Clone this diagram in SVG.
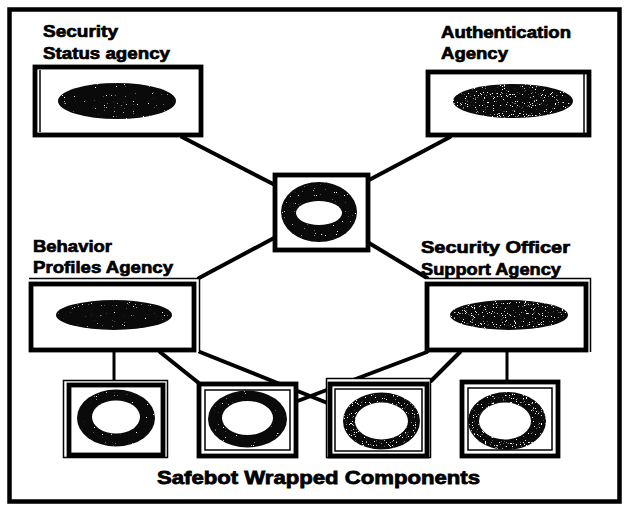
<svg xmlns="http://www.w3.org/2000/svg" width="626" height="514" viewBox="0 0 626 514">
  <style>
    .frame { fill: #fff; stroke: #000; stroke-width: 4.5; }
    .wire { stroke: #000; stroke-width: 4; stroke-linecap: round; fill: none; }
    .wire-thin { stroke: #000; stroke-width: 3; fill: none; }
    .thick { fill: #fff; stroke: #000; stroke-width: 4.8; }
    .thin { fill: none; stroke: #000; stroke-width: 1.5; }
    .blob { fill: #0a0a0a; }
    .hole { fill: #fff; }
    .label { font-family: "Liberation Sans", Arial, Helvetica, sans-serif; font-weight: bold; font-size: 17px; fill: #000; stroke: #000; stroke-width: 0.7; }
    .caption { font-family: "Liberation Sans", Arial, Helvetica, sans-serif; font-weight: bold; font-size: 19px; fill: #000; stroke: #000; stroke-width: 0.8; }
  </style>
  <defs>
    <!-- sparse white grain on the darker shapes -->
    <filter id="grain-dark" x="0" y="0" width="1" height="1" color-interpolation-filters="sRGB">
      <feTurbulence type="fractalNoise" baseFrequency="0.9" numOctaves="2" seed="4" result="noise"/>
      <feColorMatrix in="noise" type="matrix" values="0 0 0 0 1  0 0 0 0 1  0 0 0 0 1  14 0 0 0 -10.3" result="dots"/>
      <feComposite in="dots" in2="SourceGraphic" operator="in" result="clipped"/>
      <feMerge><feMergeNode in="SourceGraphic"/><feMergeNode in="clipped"/></feMerge>
    </filter>
    <!-- denser grain on the greyer shapes -->
    <filter id="grain-light" x="0" y="0" width="1" height="1" color-interpolation-filters="sRGB">
      <feTurbulence type="fractalNoise" baseFrequency="0.9" numOctaves="2" seed="11" result="noise"/>
      <feColorMatrix in="noise" type="matrix" values="0 0 0 0 1  0 0 0 0 1  0 0 0 0 1  14 0 0 0 -9.3" result="dots"/>
      <feComposite in="dots" in2="SourceGraphic" operator="in" result="clipped"/>
      <feMerge><feMergeNode in="SourceGraphic"/><feMergeNode in="clipped"/></feMerge>
    </filter>
  </defs>

  <rect class="frame" x="9.5" y="9.5" width="610" height="492"/>

  <g id="connectors">
    <line class="wire" x1="182" y1="137" x2="275" y2="185"/>
    <line class="wire" x1="450" y1="137" x2="369" y2="180"/>
    <line class="wire" x1="274" y1="238" x2="199" y2="278"/>
    <line class="wire" x1="369" y1="243" x2="427" y2="278"/>
    <line class="wire-thin" x1="114" y1="352" x2="114" y2="382"/>
    <line class="wire" x1="160" y1="352" x2="200" y2="384"/>
    <line class="wire" x1="200" y1="352" x2="330" y2="404"/>
    <line class="wire" x1="427" y1="352" x2="295" y2="402"/>
    <line class="wire" x1="460" y1="352" x2="431" y2="381"/>
    <line class="wire-thin" x1="507" y1="352" x2="507" y2="382"/>
  </g>

  <g id="security-status-agency">
    <text class="label" x="43" y="37" textLength="75" lengthAdjust="spacingAndGlyphs">Security</text>
    <text class="label" x="43" y="59" textLength="127" lengthAdjust="spacingAndGlyphs">Status agency</text>
    <rect class="thick" x="35" y="67" width="166" height="68"/>
    <line class="thin" x1="40" y1="70" x2="40" y2="132"/>
    <ellipse class="blob" cx="117" cy="101" rx="59" ry="18" filter="url(#grain-dark)"/>
  </g>

  <g id="authentication-agency">
    <text class="label" x="441" y="38" textLength="130" lengthAdjust="spacingAndGlyphs">Authentication</text>
    <text class="label" x="441" y="59" textLength="67" lengthAdjust="spacingAndGlyphs">Agency</text>
    <rect class="thick" x="428" y="72" width="161" height="63"/>
    <line class="thin" x1="584" y1="74" x2="584" y2="133"/>
    <ellipse class="blob" cx="513" cy="101" rx="60" ry="17" filter="url(#grain-light)"/>
  </g>

  <g id="hub">
    <rect class="thick" x="275" y="175" width="93" height="75"/>
    <ellipse class="blob" cx="319" cy="212" rx="38" ry="30" filter="url(#grain-dark)"/>
    <ellipse class="hole" cx="319" cy="213" rx="23" ry="12"/>
  </g>

  <g id="behavior-profiles-agency">
    <text class="label" x="33" y="252" textLength="79" lengthAdjust="spacingAndGlyphs">Behavior</text>
    <text class="label" x="33" y="273" textLength="140" lengthAdjust="spacingAndGlyphs">Profiles Agency</text>
    <rect x="29" y="278" width="171" height="74" fill="#fff"/>
    <polyline class="thin" points="29,278.5 199.5,278.5 199.5,352"/>
    <rect class="thick" x="31" y="284" width="163" height="66"/>
    <ellipse class="blob" cx="114" cy="315" rx="58" ry="15" filter="url(#grain-dark)"/>
  </g>

  <g id="security-officer-support-agency">
    <text class="label" x="421" y="253" textLength="149" lengthAdjust="spacingAndGlyphs">Security Officer</text>
    <text class="label" x="421" y="275" textLength="140" lengthAdjust="spacingAndGlyphs">Support Agency</text>
    <rect x="425" y="278" width="166" height="74" fill="#fff"/>
    <polyline class="thin" points="425,278.5 590.5,278.5 590.5,352"/>
    <rect class="thick" x="427" y="284" width="159" height="66"/>
    <ellipse class="blob" cx="509" cy="315" rx="59" ry="15" filter="url(#grain-light)"/>
  </g>

  <g id="component-1">
    <rect class="thin" x="63.5" y="380.5" width="104" height="77" style="fill:#fff"/>
    <rect class="thick" x="69" y="385" width="94" height="70"/>
    <ellipse class="blob" cx="116" cy="418" rx="39" ry="28.5" filter="url(#grain-dark)"/>
    <ellipse class="hole" cx="116" cy="417" rx="24" ry="16.5"/>
  </g>

  <g id="component-2">
    <rect class="thick" x="199" y="384" width="97" height="72"/>
    <rect class="thin" x="205" y="390" width="85" height="60"/>
    <ellipse class="blob" cx="247.5" cy="419" rx="39.5" ry="28.5" filter="url(#grain-dark)"/>
    <ellipse class="hole" cx="247.5" cy="418" rx="25.5" ry="17"/>
  </g>

  <g id="component-3">
    <rect class="thin" x="326.5" y="378.5" width="104" height="79" style="fill:#fff"/>
    <rect class="thick" x="330" y="384" width="97" height="72"/>
    <rect class="thin" x="335" y="389" width="87" height="62"/>
    <ellipse class="blob" cx="381.5" cy="421" rx="38.5" ry="28.5" filter="url(#grain-light)"/>
    <ellipse class="hole" cx="381.5" cy="421" rx="26.5" ry="18.5"/>
  </g>

  <g id="component-4">
    <rect class="thick" x="462" y="382" width="96" height="74"/>
    <rect class="thin" x="468" y="388" width="84" height="62"/>
    <ellipse class="blob" cx="507" cy="421" rx="39" ry="29" filter="url(#grain-light)"/>
    <ellipse class="hole" cx="505" cy="421" rx="26" ry="18.5"/>
  </g>

  <text class="caption" x="157" y="484" textLength="323" lengthAdjust="spacingAndGlyphs">Safebot Wrapped Components</text>
</svg>
